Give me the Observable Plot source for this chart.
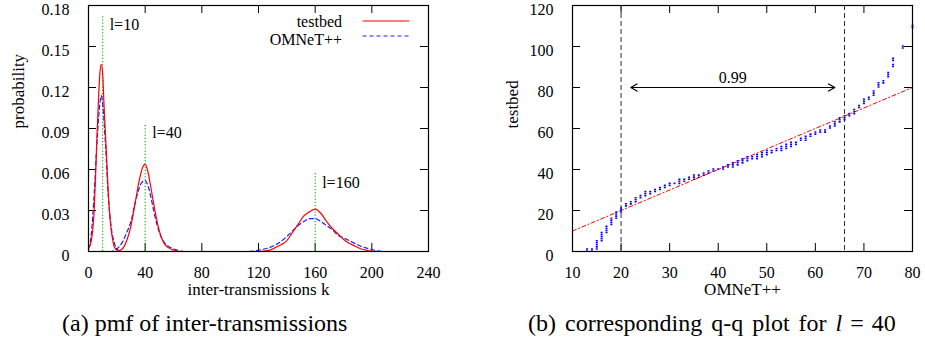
<!DOCTYPE html>
<html><head><meta charset="utf-8">
<script src="https://cdn.jsdelivr.net/npm/d3@7"></script>
<script src="https://cdn.jsdelivr.net/npm/@observablehq/plot@0.6"></script>
<style>
body{margin:0;background:#fff;font-family:"Liberation Serif",serif;color:#000}
#wrap{position:relative;width:925px;height:349px;overflow:hidden}
.panel{position:absolute;top:0}
.cap{position:absolute;font-size:24px;line-height:24px;white-space:nowrap;top:311px}
.eq{margin:0 8px}
.legt{position:absolute;font-size:16px;line-height:16px;text-align:right;white-space:nowrap}
#legsvg{position:absolute;left:360px;top:12px}
</style></head>
<body><div id="wrap"></div>
<script>
// ---------- panel (a): pmf of inter-transmissions ----------
const xTicksA = [0, 40, 80, 120, 160, 200, 240];
const yTicksA = [0, 0.03, 0.06, 0.09, 0.12, 0.15, 0.18];

const testbed10_k = [0, 2, 4, 5, 6, 7, 8, 9, 10, 11, 12, 13, 14, 15, 16, 17, 18, 20, 22, 240];
const testbed10_p = [0.002, 0.008, 0.03, 0.055, 0.085, 0.110, 0.130, 0.137, 0.130, 0.106, 0.085, 0.064, 0.042, 0.027, 0.016, 0.009, 0.004, 0.001, 0, 0];
const omnet10_k = [0, 2, 4, 6, 8, 9, 10, 12, 14, 16, 18, 20, 22, 24, 240];
const omnet10_p = [0.002, 0.013, 0.042, 0.080, 0.108, 0.114, 0.108, 0.078, 0.040, 0.018, 0.007, 0.002, 0.0005, 0, 0];

const testbed40_k = [0, 20, 24, 27, 30, 33, 36, 38, 40, 42, 44, 46, 48, 50, 52, 54, 56, 60, 64, 240];
const testbed40_p = [0, 0, 0.002, 0.008, 0.019, 0.036, 0.053, 0.061, 0.064, 0.058, 0.047, 0.035, 0.024, 0.015, 0.009, 0.005, 0.003, 0.001, 0, 0];
const omnet40_k = [0, 16, 20, 24, 27, 30, 33, 36, 38, 40, 42, 44, 46, 48, 50, 52, 54, 56, 60, 64, 68, 240];
const omnet40_p = [0, 0, 0.002, 0.007, 0.014, 0.022, 0.036, 0.047, 0.051, 0.052, 0.048, 0.040, 0.030, 0.021, 0.014, 0.009, 0.006, 0.004, 0.002, 0.0005, 0, 0];

const testbed160_k = [0, 120, 128, 132, 136, 140, 144, 148, 152, 156, 160, 164, 168, 172, 176, 180, 184, 188, 192, 196, 200, 240];
const testbed160_p = [0, 0, 0.001, 0.003, 0.005, 0.008, 0.014, 0.020, 0.026, 0.029, 0.031, 0.028, 0.022, 0.017, 0.013, 0.009, 0.006, 0.004, 0.002, 0.001, 0, 0];
const omnet160_k = [0, 112, 120, 128, 134, 140, 144, 148, 152, 156, 160, 164, 168, 172, 176, 180, 186, 192, 198, 204, 210, 240];
const omnet160_p = [0, 0, 0.001, 0.003, 0.006, 0.011, 0.015, 0.019, 0.022, 0.024, 0.024, 0.022, 0.019, 0.016, 0.012, 0.010, 0.007, 0.004, 0.002, 0.0005, 0, 0];

const lValues = [10, 40, 160];
const lLineTop = [0.173, 0.093, 0.057];
const lLabelY = [0.166, 0.087, 0.050];
const lLabels = ["l=10", "l=40", "l=160"];

// ---------- panel (b): q-q plot for l = 40 ----------
const xTicksB = [10, 20, 30, 40, 50, 60, 70, 80];
const yTicksB = [0, 20, 40, 60, 80, 100, 120];
const qqX  = [13,14,15,16,17,18,19,20,21,22,23,24,25,26,27,28,29,30,31,32,33,34,35,36,37,38,39,40,41,42,43,44,45,46,47,48,49,50,51,52,53,54,55,56,57,58,59,60,61,62,63,64,65,66,67,68,69,70,71,72,73,74,75,76,76,78,80];
const qqLo = [0,0,1,5,9,13,16,19,22,23,24,26,27,28,29,30,31,32,33,33,34,35,35,36,37,38,39,40,40,41,41,42,43,44,45,45,46,47,48,49,49,50,51,52,54,54,56,57,58,58,60,61,63,64,66,67,70,72,74,76,80,82,85,90,93,99,109];
const qqHi = [1,1,5,9,12,16,19,21,23,24,26,27,29,29,30,31,32,33,33,35,35,36,37,37,38,39,40,40,41,42,43,44,45,46,46,47,48,49,49,50,51,52,53,53,55,56,57,58,59,59,61,63,65,66,67,69,71,74,75,78,82,83,87,91,94,100,110];
const refLineX = [10, 80];           // y = x reference
const quantileBounds = [20, 66];     // 0.99 range
const arrowY = 80;
const arrowMid = 43;
const arrowLabel = "0.99";
const arrowLabelY = 84.5;

// ---------- build tables ----------
function rows(ks, ps, source, l) { return ks.map((k, i) => ({k, p: ps[i], source, l})); }
const pmf = [
  ...rows(testbed10_k, testbed10_p, "testbed", 10),
  ...rows(omnet10_k, omnet10_p, "OMNeT++", 10),
  ...rows(testbed40_k, testbed40_p, "testbed", 40),
  ...rows(omnet40_k, omnet40_p, "OMNeT++", 40),
  ...rows(testbed160_k, testbed160_p, "testbed", 160),
  ...rows(omnet160_k, omnet160_p, "OMNeT++", 160)
];
const lTable = lValues.map((l, i) => ({l, top: lLineTop[i], ly: lLabelY[i], label: lLabels[i]}));
const qq = qqX.map((x, i) => ({x, lo: qqLo[i], hi: qqHi[i]}));

const RED = "#ff0000", BLUE = "#1a1aff", GREEN = "#00a000";
const font = {fontFamily: "'Liberation Serif', serif", fontSize: "16px", background: "transparent", overflow: "visible", color: "#000"};
const TICK = 8;
const FS = 16, FT = 17;

function tickMarks(xt, yt, FW, FH) {
  return [
    Plot.ruleX(xt, {x: d => d, insetTop: FH - TICK, stroke: "#000", strokeWidth: 1}),
    Plot.ruleX(xt, {x: d => d, insetBottom: FH - TICK, stroke: "#000", strokeWidth: 1}),
    Plot.ruleY(yt, {y: d => d, insetRight: FW - TICK, stroke: "#000", strokeWidth: 1}),
    Plot.ruleY(yt, {y: d => d, insetLeft: FW - TICK, stroke: "#000", strokeWidth: 1})
  ];
}

// panel a
const A = {w: 460, h: 300, ml: 88, mr: 32, mt: 5, mb: 49};
const FWa = A.w - A.ml - A.mr, FHa = A.h - A.mt - A.mb;
const plotA = Plot.plot({
  width: A.w, height: A.h, marginLeft: A.ml, marginRight: A.mr, marginTop: A.mt, marginBottom: A.mb,
  style: font,
  x: {domain: [0, 240]},
  y: {domain: [0, 0.18]},
  marks: [
    ...tickMarks(xTicksA, yTicksA, FWa, FHa),
    Plot.ruleX(lTable, {x: "l", y1: 0, y2: "top", stroke: GREEN, strokeWidth: 1.1, strokeDasharray: "1.2,2"}),
    Plot.line(pmf.filter(d => d.source === "OMNeT++"), {x: "k", y: "p", z: "l", stroke: BLUE, strokeWidth: 1.2, strokeDasharray: "4,3", curve: "monotone-x"}),
    Plot.line(pmf.filter(d => d.source === "testbed"), {x: "k", y: "p", z: "l", stroke: RED, strokeWidth: 1.2, curve: "monotone-x"}),
    Plot.text(lTable, {x: "l", y: "ly", text: "label", textAnchor: "start", dx: 7, fontSize: FS}),
    Plot.frame({stroke: "#000", strokeWidth: 1.2}),
    Plot.axisX({ticks: xTicksA, tickSize: 0, tickPadding: 15, tickFormat: d => String(d), fontSize: FS, label: null}),
    Plot.axisY({ticks: yTicksA, tickSize: 0, tickPadding: 19, dy: 4, tickFormat: d => d === 0 ? "0" : d.toFixed(2), fontSize: FS, label: null}),
    Plot.text(["probability"], {text: d => d, frameAnchor: "left", dx: -70, rotate: -90, fontSize: FT}),
    Plot.text(["inter-transmissions k"], {text: d => d, frameAnchor: "bottom", dy: 43, fontSize: FT})
  ]
});

// panel b
const B = {w: 465, h: 300, ml: 112, mr: 13, mt: 5, mb: 49};
const FWb = B.w - B.ml - B.mr, FHb = B.h - B.mt - B.mb;
const plotB = Plot.plot({
  width: B.w, height: B.h, marginLeft: B.ml, marginRight: B.mr, marginTop: B.mt, marginBottom: B.mb,
  style: font,
  x: {domain: [10, 80]},
  y: {domain: [0, 120]},
  marks: [
    ...tickMarks(xTicksB, yTicksB, FWb, FHb),
    Plot.ruleX(quantileBounds, {x: d => d, stroke: "#333", strokeWidth: 1, strokeDasharray: "5,3"}),
    Plot.line(refLineX, {x: d => d, y: d => d, stroke: RED, strokeWidth: 1, strokeDasharray: "4,2.5,1.2,2.5"}),
    Plot.ruleX(qq, {x: "x", y1: d => d.lo - 0.4, y2: d => d.hi + 0.4, stroke: "#0000ff", strokeWidth: 2, strokeDasharray: "1.6,0.5"}),
    Plot.arrow([quantileBounds], {x1: arrowMid, x2: d => d[0] + 2, y1: arrowY, y2: arrowY, stroke: "#000", strokeWidth: 1.2, headLength: 9}),
    Plot.arrow([quantileBounds], {x1: arrowMid, x2: d => d[1] - 2, y1: arrowY, y2: arrowY, stroke: "#000", strokeWidth: 1.2, headLength: 9}),
    Plot.text([arrowLabel], {text: d => d, x: arrowMid, y: arrowLabelY, fontSize: FS}),
    Plot.frame({stroke: "#000", strokeWidth: 1.2}),
    Plot.axisX({ticks: xTicksB, tickSize: 0, tickPadding: 15, tickFormat: d => String(d), fontSize: FS, label: null}),
    Plot.axisY({ticks: yTicksB, tickSize: 0, tickPadding: 19, dy: 4, tickFormat: d => String(d), fontSize: FS, label: null}),
    Plot.text(["testbed"], {text: d => d, frameAnchor: "left", dx: -60, rotate: -90, fontSize: FT}),
    Plot.text(["OMNeT++"], {text: d => d, frameAnchor: "bottom", dy: 43, fontSize: FT})
  ]
});

const wrap = document.getElementById("wrap");
plotA.classList.add("panel"); plotA.style.left = "0px";
plotB.classList.add("panel"); plotB.style.left = "460px";
wrap.appendChild(plotA); wrap.appendChild(plotB);

// legend (panel a)
const legNames = ["testbed", "OMNeT++"];
const legTops = [14, 32];
legNames.forEach((n, i) => {
  const d = document.createElement("div");
  d.className = "legt"; d.textContent = n;
  d.style.right = (925 - 342) + "px"; d.style.top = legTops[i] + "px";
  wrap.appendChild(d);
});
const ns = "http://www.w3.org/2000/svg";
const lsvg = document.createElementNS(ns, "svg");
lsvg.setAttribute("id", "legsvg"); lsvg.setAttribute("width", 54); lsvg.setAttribute("height", 30);
[[9, RED, null], [24, BLUE, "4,3"]].forEach(([y, c, da]) => {
  const ln = document.createElementNS(ns, "line");
  ln.setAttribute("x1", 2.5); ln.setAttribute("x2", 49.5); ln.setAttribute("y1", y); ln.setAttribute("y2", y);
  ln.setAttribute("stroke", c); ln.setAttribute("stroke-width", 1.2);
  if (da) ln.setAttribute("stroke-dasharray", da);
  lsvg.appendChild(ln);
});
wrap.appendChild(lsvg);

// captions
const capA = document.createElement("div");
capA.className = "cap"; capA.style.left = "62px"; capA.textContent = "(a) pmf of inter-transmissions";
const capB = document.createElement("div");
capB.className = "cap"; capB.style.left = "528px"; capB.style.wordSpacing = "3px";
capB.innerHTML = "(b) corresponding q-q plot for <i>l</i><span class=\"eq\">=</span>40";
wrap.appendChild(capA); wrap.appendChild(capB);
</script>
</body></html>
